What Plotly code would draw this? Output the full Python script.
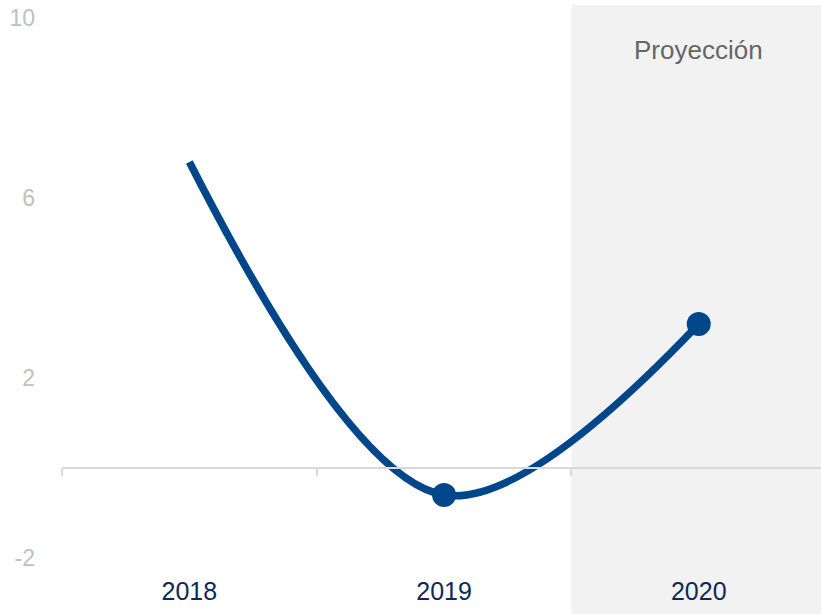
import plotly.graph_objects as go

years = ["2018", "2019", "2020"]
values = [6.8, -0.6, 3.2]
marker_sizes = [0, 24, 24]
y_ticks = [-2, 2, 6, 10]
y_tick_labels = ["-2", "2", "6", "10"]
proj_label = "Proyección"

y_lo, y_hi = -2.356, 10.289
zero_pos = (0 - y_lo) / (y_hi - y_lo)

fig = go.Figure()
fig.add_trace(go.Scatter(
    x=[0, 1, 2], y=values, mode="lines+markers",
    line=dict(color="#00468A", width=7.5, shape="spline", smoothing=1.0),
    marker=dict(size=marker_sizes, color="#00468A", opacity=1, line=dict(width=0)),
    hoverinfo="skip", showlegend=False,
))
# invisible trace for boundary tick axis
fig.add_trace(go.Scatter(x=[0], y=[0], xaxis="x2", mode="markers",
                         marker=dict(opacity=0), showlegend=False, hoverinfo="skip"))

fig.add_shape(type="rect", xref="x", yref="paper", x0=1.5, x1=2.6, y0=-0.1, y1=1,
              fillcolor="#f2f2f2", line=dict(width=0), layer="below")

fig.add_annotation(x=2, y=9.3, text=proj_label, showarrow=False,
                   font=dict(size=26, color="#666666", family="Liberation Sans, Arial"))

fig.update_layout(
    width=821, height=614,
    margin=dict(l=62, r=0, t=5, b=40),
    plot_bgcolor="white", paper_bgcolor="white",
    font=dict(family="Liberation Sans, Arial", size=20),
    xaxis=dict(range=[-0.5, 2.48], tickvals=[0, 1, 2], ticktext=years,
               showgrid=False, zeroline=False, showline=False,
               tickfont=dict(size=25, color="#0B2A55"), ticks="", ticklabelstandoff=0),
    xaxis2=dict(overlaying="x", anchor="free", position=zero_pos, side="bottom",
                range=[-0.5, 2.48], tickvals=[-0.5, 0.5, 1.5, 2.5],
                ticks="outside", ticklen=7, tickwidth=2, tickcolor="#d9d9d9",
                showticklabels=False, showgrid=False, zeroline=False,
                showline=True, linecolor="#d9d9d9", linewidth=2),
    yaxis=dict(range=[y_lo, y_hi], tickvals=y_ticks, ticktext=y_tick_labels,
               showgrid=False, zeroline=False, showline=False,
               tickfont=dict(size=23, color="#c0c0c0"), ticklabelstandoff=26),
)

fig.write_html("out.html", config={"displayModeBar": False},
               post_script="document.body.style.margin='0';")
